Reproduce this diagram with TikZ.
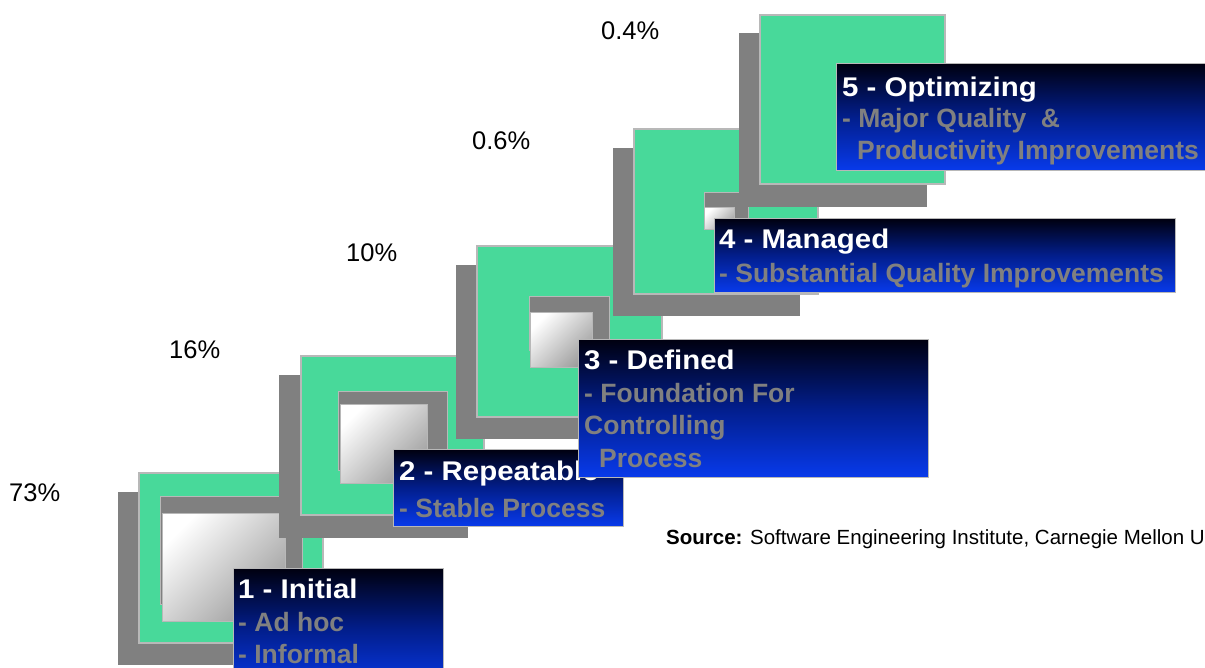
\documentclass[tikz,border=0pt]{standalone}
\usepackage{fontspec}
\setmainfont{Liberation Sans}
\newfontfamily\titlefont[FakeStretch=1.09]{Liberation Sans}
\usetikzlibrary{calc}

\definecolor{stepgreen}{RGB}{72,217,154}
\definecolor{stepgray}{RGB}{128,128,128}
\definecolor{edgegray}{RGB}{184,184,184}
\definecolor{notegray}{RGB}{128,128,128}
\definecolor{boxtop}{RGB}{0,0,16}
\definecolor{boxmid}{RGB}{2,30,140}
\definecolor{boxbot}{RGB}{8,58,235}

\tikzset{
  shadowsq/.style={fill=stepgray, draw=stepgray, line width=0.8pt},
  greensq/.style={fill=stepgreen, draw=edgegray, line width=1.2pt},
  wellsq/.style={fill=stepgray, draw=edgegray, line width=1pt},
  padsq/.style={draw=edgegray, line width=1pt, top color=white, bottom color=black!38, shading angle=45},
  levelbox/.style={rectangle, draw=edgegray, line width=1pt, top color=boxtop,
    bottom color=boxbot, middle color=boxmid, inner sep=0, anchor=north west},
  ttl/.style={inner sep=0, anchor=base west, text=white,
    font=\titlefont\bfseries\fontsize{27}{32}\selectfont},
  sub/.style={inner sep=0, anchor=base west, text=notegray,
    font=\bfseries\fontsize{26.5}{32}\selectfont},
  pct/.style={inner sep=0, anchor=base west, font=\fontsize{25.5}{30}\selectfont},
}

\begin{document}
\begin{tikzpicture}[x=1pt, y=-1pt]
\useasboundingbox (0,0) rectangle (1205,668);
\clip (0,0) rectangle (1205,668);
\fill[white] (0,0) rectangle (1205,668);

% share of organisations at each level
\node[pct] (p1) at (9,501) {73\%};
\node[pct] (p2) at (169,359) {16\%};
\node[pct] (p3) at (346,262) {10\%};
\node[pct] (p4) at (472,150) {0.6\%};
\node[pct] (p5) at (601,40) {0.4\%};

% level 1
\draw[shadowsq] (118,492) rectangle (302,664);
\draw[greensq] (139,473) rectangle (323,643);
\draw[wellsq] (160,496) rectangle (302,604);
\draw[padsq] (162,513) rectangle (285,621);
\node[levelbox, minimum width=210, minimum height=122] (box1) at (233,568) {};
\node[ttl] (t1a) at ($(box1.north west)+(5,30)$) {1 - Initial};
\node[sub] (t1b) at ($(box1.north west)+(5,63)$) {- Ad hoc};
\node[sub] (t1c) at ($(box1.north west)+(5,95)$) {- Informal};

% level 2
\draw[shadowsq] (279,375) rectangle (467,537);
\draw[greensq] (301,356) rectangle (484,515);
\draw[wellsq] (338,391) rectangle (447,470);
\draw[padsq] (340,404) rectangle (427,483);
\node[levelbox, minimum width=230, minimum height=77] (box2) at (393,449) {};
\node[ttl] (t2a) at ($(box2.north west)+(6,31)$) {2 - Repeatable};
\node[sub] (t2b) at ($(box2.north west)+(6,68)$) {- Stable Process};

% level 3
\draw[shadowsq] (456,265) rectangle (641,438);
\draw[greensq] (477,246) rectangle (662,417);
\draw[wellsq] (529,297) rectangle (609,351);
\draw[padsq] (530,313) rectangle (592,367);
\node[levelbox, minimum width=350, minimum height=138] (box3) at (578,339) {};
\node[ttl] (t3a) at ($(box3.north west)+(6,30)$) {3 - Defined};
\node[sub] (t3b) at ($(box3.north west)+(6,63)$) {- Foundation For};
\node[sub] (t3c) at ($(box3.north west)+(6,95)$) {Controlling};
\node[sub] (t3d) at ($(box3.north west)+(21,128)$) {Process};

% level 4
\draw[shadowsq] (613,148) rectangle (799,315);
\draw[greensq] (634,129) rectangle (818,294);
\draw[wellsq] (704,193) rectangle (748,219);
\draw[padsq] (704,208) rectangle (734,230);
\node[levelbox, minimum width=461, minimum height=74] (box4) at (714,218) {};
\node[ttl] (t4a) at ($(box4.north west)+(5,31)$) {4 - Managed};
\node[sub] (t4b) at ($(box4.north west)+(5,65)$) {- Substantial Quality Improvements};

% level 5
\draw[shadowsq] (739,33) rectangle (926,206);
\draw[greensq] (760,15) rectangle (945,184);
\node[levelbox, minimum width=390, minimum height=107] (box5) at (836,63) {};
\node[ttl] (t5a) at ($(box5.north west)+(6,34)$) {5 - Optimizing};
\node[sub] (t5b) at ($(box5.north west)+(6,65)$) {- Major Quality\ \ \&};
\node[sub] (t5c) at ($(box5.north west)+(21,97)$) {Productivity Improvements};

% attribution
\node[inner sep=0, anchor=base west, font=\fontsize{20.5}{24}\selectfont] (src) at (666,544)
  {\textbf{Source:} Software Engineering Institute, Carnegie Mellon U};
\end{tikzpicture}
\end{document}
